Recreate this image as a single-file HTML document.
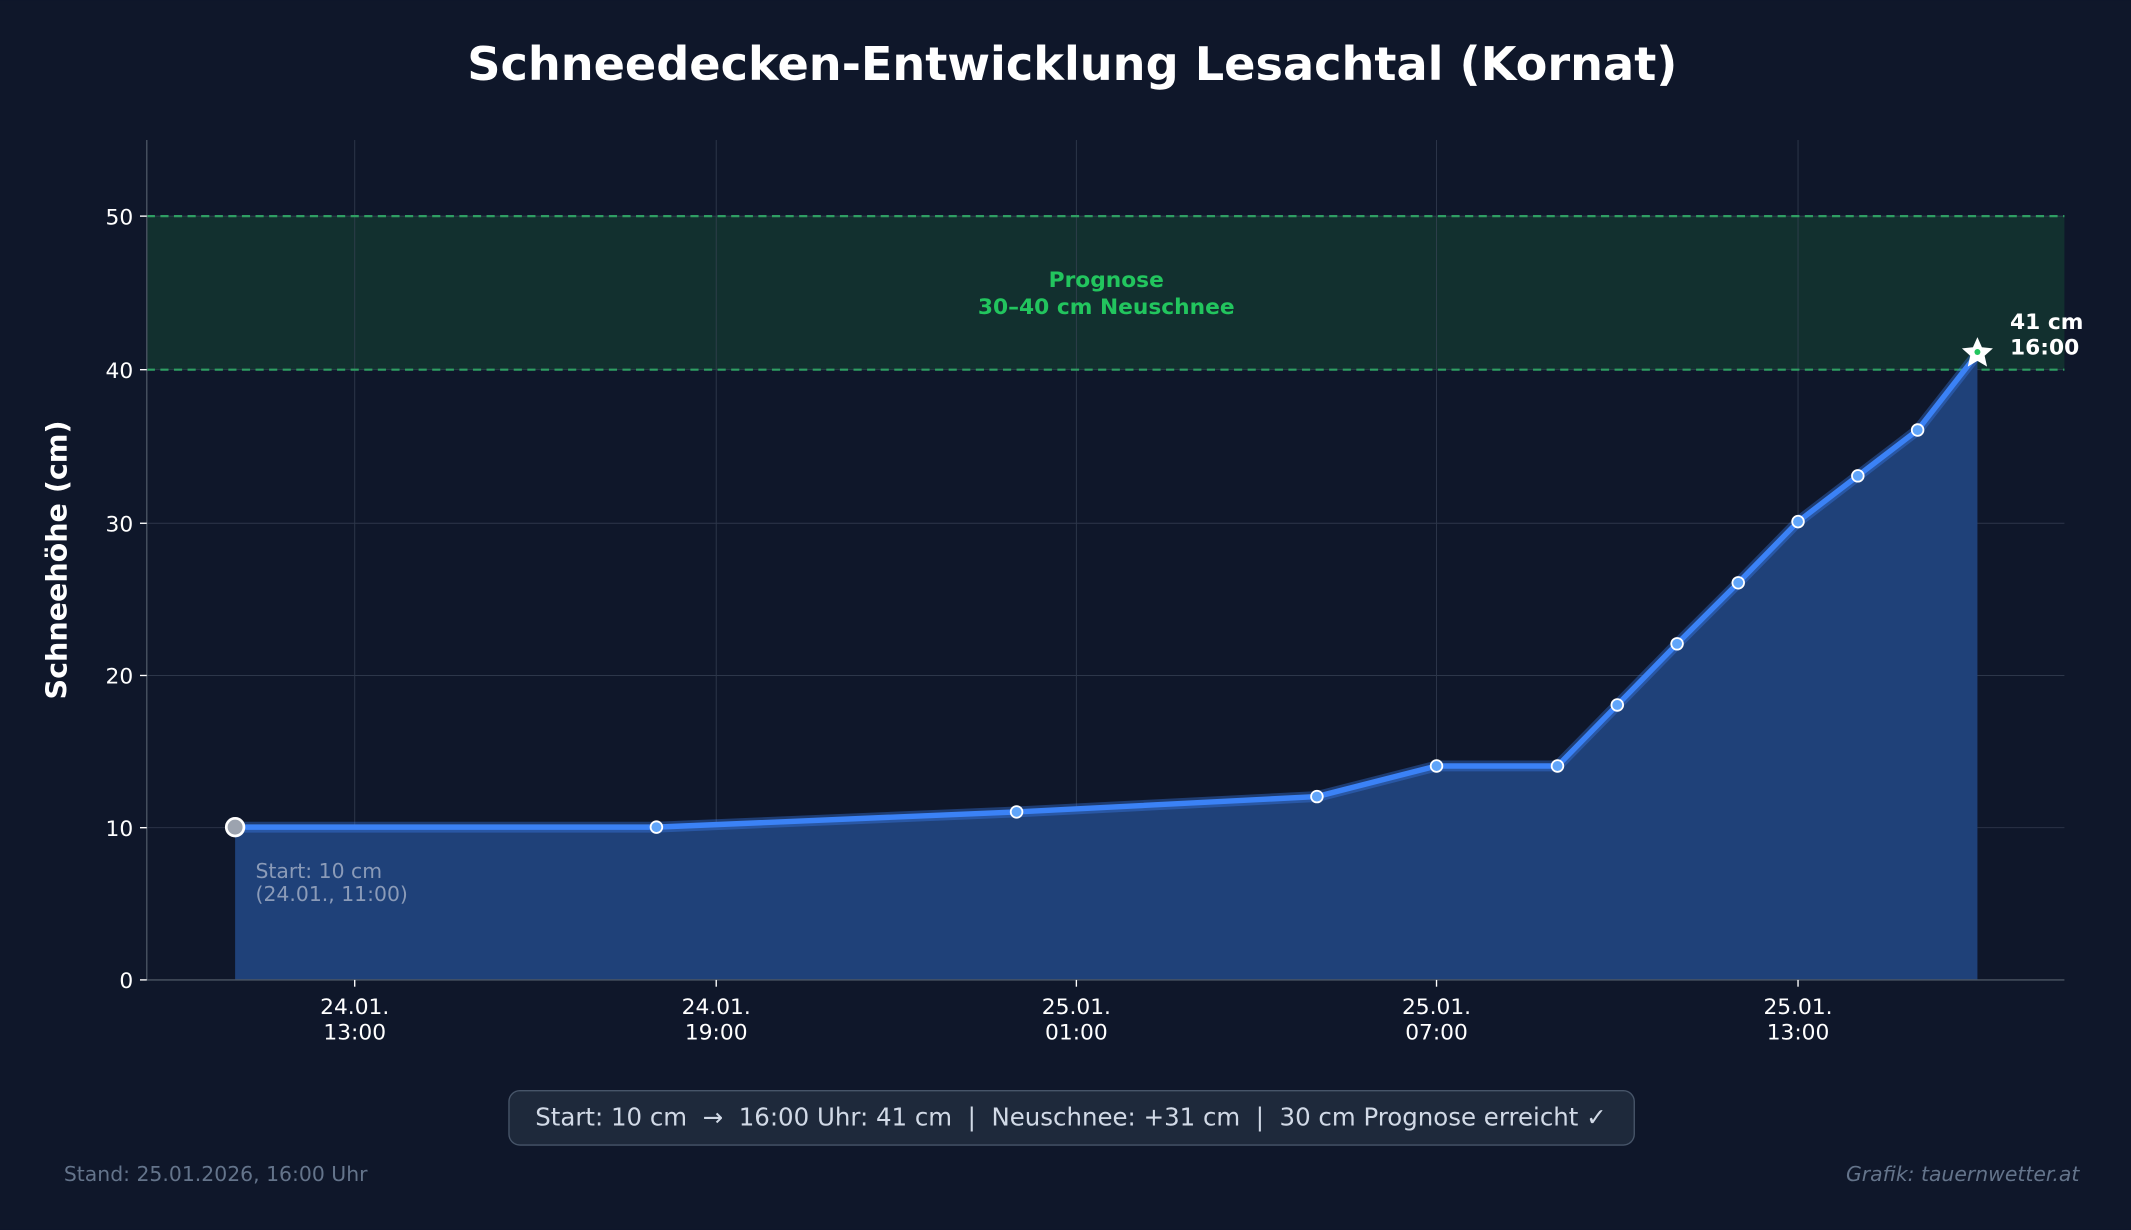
<!DOCTYPE html>
<html><head><meta charset="utf-8"><style>
html,body{margin:0;padding:0;background:#0f172a;}
svg{display:block;}
text{font-family:"DejaVu Sans","Liberation Sans",sans-serif;white-space:pre;}
</style></head><body>
<svg width="2131" height="1230" viewBox="0 0 1568 905" xmlns="http://www.w3.org/2000/svg">
<rect width="1568" height="905" fill="#0f172a"/>
<text x="789" y="59" text-anchor="middle" font-size="34" font-weight="bold" fill="#ffffff">Schneedecken-Entwicklung Lesachtal (Kornat)</text>
<rect x="108" y="159" width="1411" height="113" fill="#12302f"/>
<g stroke="#3a4558" stroke-width="0.7" opacity="0.7">
<line x1="261" y1="103" x2="261" y2="721"/><line x1="527" y1="103" x2="527" y2="721"/>
<line x1="792" y1="103" x2="792" y2="721"/><line x1="1057" y1="103" x2="1057" y2="721"/>
<line x1="1323" y1="103" x2="1323" y2="721"/>
<line x1="108" y1="609" x2="1519" y2="609"/><line x1="108" y1="497" x2="1519" y2="497"/>
<line x1="108" y1="385" x2="1519" y2="385"/><line x1="108" y1="272" x2="1519" y2="272"/>
<line x1="108" y1="159" x2="1519" y2="159"/>
</g>
<line x1="108" y1="159" x2="1519" y2="159" stroke="#2f9e63" stroke-width="1.6" stroke-dasharray="6,4"/>
<line x1="108" y1="272" x2="1519" y2="272" stroke="#2f9e63" stroke-width="1.6" stroke-dasharray="6,4"/>
<text x="814" y="211" text-anchor="middle" font-size="16" font-weight="bold" fill="#22c55e">Prognose</text>
<text x="814" y="231" text-anchor="middle" font-size="16" font-weight="bold" fill="#22c55e">30–40 cm Neuschnee</text>
<polygon fill="#1f4179" points="173,721 173,608.6 483,608.6 748,597.4 969,586.1 1057,563.6 1146,563.6 1190,518.7 1234,473.7 1279,428.8 1323,383.8 1367,350.1 1411,316.4 1455,260.2 1455,721"/>
<polyline fill="none" stroke="#3b82f6" stroke-opacity="0.35" stroke-width="8" stroke-linejoin="round" points="173,608.6 483,608.6 748,597.4 969,586.1 1057,563.6 1146,563.6 1190,518.7 1234,473.7 1279,428.8 1323,383.8 1367,350.1 1411,316.4 1455,260.2"/>
<polyline fill="none" stroke="#3b82f6" stroke-width="4" stroke-linejoin="round" points="173,608.6 483,608.6 748,597.4 969,586.1 1057,563.6 1146,563.6 1190,518.7 1234,473.7 1279,428.8 1323,383.8 1367,350.1 1411,316.4 1455,260.2"/>
<g fill="#60a5fa" stroke="#ffffff" stroke-width="1.3">
<circle cx="483" cy="608.6" r="4.3"/><circle cx="748" cy="597.4" r="4.3"/><circle cx="969" cy="586.1" r="4.3"/>
<circle cx="1057" cy="563.6" r="4.3"/><circle cx="1146" cy="563.6" r="4.3"/><circle cx="1190" cy="518.7" r="4.3"/>
<circle cx="1234" cy="473.7" r="4.3"/><circle cx="1279" cy="428.8" r="4.3"/><circle cx="1323" cy="383.8" r="4.3"/>
<circle cx="1367" cy="350.1" r="4.3"/><circle cx="1411" cy="316.4" r="4.3"/>
</g>
<circle cx="173" cy="608.6" r="6.5" fill="#9ca3af" stroke="#ffffff" stroke-width="2"/>
<polygon fill="#ffffff" points="1455,248 1458.3,255.5 1466.4,256.3 1460.3,261.7 1462.1,269.7 1455,265.5 1447.9,269.7 1449.7,261.7 1443.6,256.3 1451.7,255.5"/>
<circle cx="1455" cy="259" r="2.2" fill="#22c55e"/>
<text x="1479" y="242" font-size="16" font-weight="bold" fill="#ffffff">41 cm</text>
<text x="1479" y="261" font-size="16" font-weight="bold" fill="#ffffff">16:00</text>
<text x="188" y="646" font-size="15" fill="#8b9bb8">Start: 10 cm</text>
<text x="188" y="663" font-size="15" fill="#8b9bb8">(24.01., 11:00)</text>
<line x1="108" y1="103" x2="108" y2="721" stroke="#4b5563" stroke-width="1"/>
<line x1="108" y1="721" x2="1519" y2="721" stroke="#4b5563" stroke-width="1"/>
<g stroke="#ffffff" stroke-width="1">
<line x1="261" y1="721" x2="261" y2="726"/><line x1="527" y1="721" x2="527" y2="726"/><line x1="792" y1="721" x2="792" y2="726"/>
<line x1="1057" y1="721" x2="1057" y2="726"/><line x1="1323" y1="721" x2="1323" y2="726"/>
<line x1="103" y1="721" x2="108" y2="721"/><line x1="103" y1="609" x2="108" y2="609"/><line x1="103" y1="497" x2="108" y2="497"/>
<line x1="103" y1="385" x2="108" y2="385"/><line x1="103" y1="272" x2="108" y2="272"/><line x1="103" y1="159" x2="108" y2="159"/>
</g>
<g font-size="16" fill="#ffffff" text-anchor="end">
<text x="98" y="727">0</text><text x="98" y="615">10</text><text x="98" y="503">20</text>
<text x="98" y="391">30</text><text x="98" y="278">40</text><text x="98" y="165">50</text>
</g>
<g font-size="16" fill="#ffffff" text-anchor="middle">
<text x="261" y="746">24.01.</text><text x="261" y="765">13:00</text>
<text x="527" y="746">24.01.</text><text x="527" y="765">19:00</text>
<text x="792" y="746">25.01.</text><text x="792" y="765">01:00</text>
<text x="1057" y="746">25.01.</text><text x="1057" y="765">07:00</text>
<text x="1323" y="746">25.01.</text><text x="1323" y="765">13:00</text>
</g>
<text transform="translate(49,412) rotate(-90)" text-anchor="middle" font-size="21" font-weight="bold" fill="#ffffff">Schneehöhe (cm)</text>
<rect x="374.5" y="802.5" width="828" height="40" rx="8" fill="#1e293b" stroke="#475569" stroke-width="1"/>
<text x="788" y="828" text-anchor="middle" font-size="18" fill="#d1d9e6">Start: 10 cm  →  16:00 Uhr: 41 cm  |  Neuschnee: +31 cm  |  30 cm Prognose erreicht ✓</text>
<text x="47" y="869" font-size="15" fill="#64748b">Stand: 25.01.2026, 16:00 Uhr</text>
<text x="1530" y="869" text-anchor="end" font-size="15" font-style="italic" fill="#64748b">Grafik: tauernwetter.at</text>
</svg>
</body></html>
